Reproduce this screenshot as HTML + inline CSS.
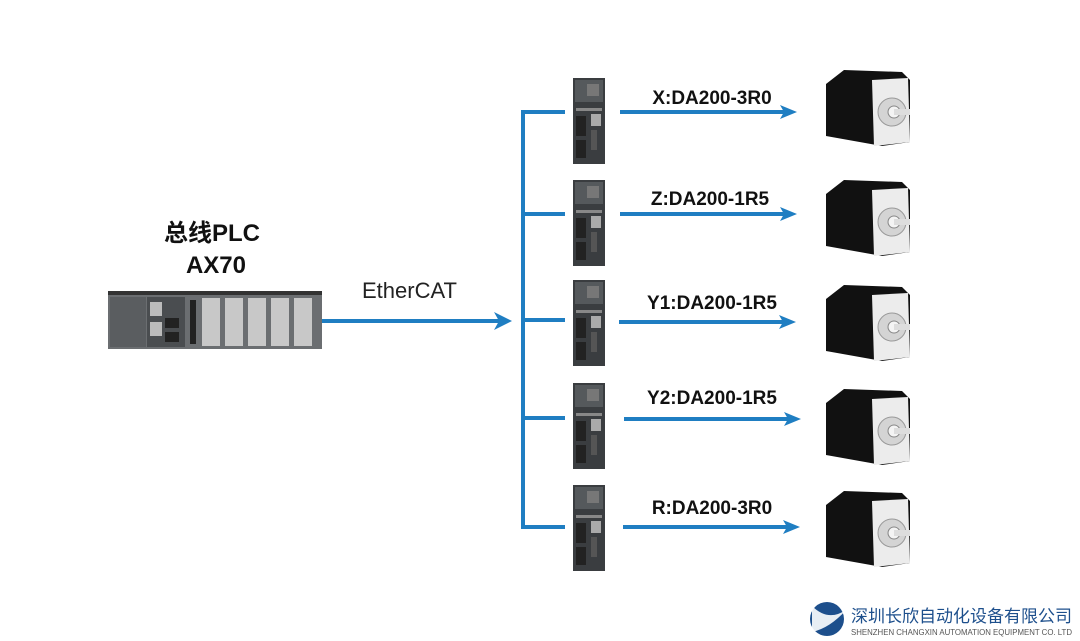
<!DOCTYPE html>
<html><head><meta charset="utf-8"><style>
html,body{margin:0;padding:0;background:#fff;width:1080px;height:641px;overflow:hidden}
svg{display:block}
text{font-family:"Liberation Sans","Noto Sans CJK SC",sans-serif}
</style></head><body>
<svg width="1080" height="641" viewBox="0 0 1080 641" xmlns="http://www.w3.org/2000/svg">
<defs>
<g id="drive">
<rect x="0" y="0" width="32" height="86" fill="#3a3d40"/>
<rect x="2" y="2" width="28" height="22" fill="#55595c"/>
<rect x="14" y="6" width="12" height="12" fill="#777"/>
<rect x="3" y="30" width="26" height="3" fill="#888"/>
<rect x="18" y="36" width="10" height="12" fill="#aaa"/>
<rect x="3" y="38" width="10" height="20" fill="#222"/>
<rect x="3" y="62" width="10" height="18" fill="#222"/>
<rect x="18" y="52" width="6" height="20" fill="#555"/>
</g>
<g id="motor">
<polygon points="4,18 22,4 80,6 88,14 88,76 60,80 4,70" fill="#111"/>
<polygon points="50,14 86,12 88,76 52,80" fill="#ececec"/>
<circle cx="70" cy="46" r="14" fill="#d4d4d4" stroke="#999"/>
<circle cx="72" cy="46" r="6" fill="#f4f4f4" stroke="#888"/>
<rect x="72" y="43" width="16" height="6" fill="#ddd"/>
</g>
<g id="arr"><line x1="0" y1="0" x2="170" y2="0" stroke="#1f7ec2" stroke-width="4"/><polygon points="160,-7 177,0 160,7 164,0" fill="#1f7ec2"/></g>
</defs>

<text x="212" y="241" font-size="24" font-weight="bold" text-anchor="middle" fill="#111">总线PLC</text>
<text x="216" y="273" font-size="24" font-weight="bold" text-anchor="middle" fill="#111">AX70</text>

<rect x="108" y="291" width="214" height="58" fill="#6b6e71"/>
<rect x="110" y="297" width="36" height="50" fill="#5a5d60"/>
<rect x="147" y="297" width="38" height="50" fill="#4a4d50"/>
<rect x="150" y="302" width="12" height="14" fill="#bbb"/><rect x="150" y="322" width="12" height="14" fill="#bbb"/>
<rect x="165" y="318" width="14" height="10" fill="#222"/><rect x="165" y="332" width="14" height="10" fill="#222"/>
<rect x="190" y="300" width="6" height="44" fill="#222"/>
<g fill="#c8c8c8">
<rect x="202" y="298" width="18" height="48"/><rect x="225" y="298" width="18" height="48"/><rect x="248" y="298" width="18" height="48"/><rect x="271" y="298" width="18" height="48"/><rect x="294" y="298" width="18" height="48"/>
</g>
<rect x="108" y="291" width="214" height="4" fill="#333"/>

<text x="362" y="298" font-size="22" fill="#222">EtherCAT</text>
<line x1="322" y1="321" x2="500" y2="321" stroke="#1f7ec2" stroke-width="4"/>
<polygon points="494,312 512,321 494,330 499,321" fill="#1f7ec2"/>

<line x1="523" y1="110" x2="523" y2="529" stroke="#1f7ec2" stroke-width="4"/>
<g stroke="#1f7ec2" stroke-width="4">
<line x1="521" y1="112" x2="565" y2="112"/>
<line x1="521" y1="214" x2="565" y2="214"/>
<line x1="521" y1="320" x2="565" y2="320"/>
<line x1="521" y1="418" x2="565" y2="418"/>
<line x1="521" y1="527" x2="565" y2="527"/>
</g>

<use href="#drive" x="573" y="78"/>
<use href="#drive" x="573" y="180"/>
<use href="#drive" x="573" y="280"/>
<use href="#drive" x="573" y="383"/>
<use href="#drive" x="573" y="485"/>

<use href="#arr" x="620" y="112"/>
<use href="#arr" x="620" y="214"/>
<use href="#arr" x="619" y="322"/>
<use href="#arr" x="624" y="419"/>
<use href="#arr" x="623" y="527"/>

<g font-size="19" font-weight="bold" fill="#111" text-anchor="middle">
<text x="712" y="104">X:DA200-3R0</text>
<text x="710" y="205">Z:DA200-1R5</text>
<text x="712" y="309">Y1:DA200-1R5</text>
<text x="712" y="404">Y2:DA200-1R5</text>
<text x="712" y="514">R:DA200-3R0</text>
</g>

<use href="#motor" x="822" y="66"/>
<use href="#motor" x="822" y="176"/>
<use href="#motor" x="822" y="281"/>
<use href="#motor" x="822" y="385"/>
<use href="#motor" x="822" y="487"/>

<circle cx="827" cy="619" r="17" fill="#1d4f8c"/>
<path d="M812 606 Q828 622 846 610 Q830 628 812 632 Z" fill="#fff" opacity="0.9"/>
<text x="851" y="622" font-size="17" fill="#1d4f8c" font-family="Noto Sans CJK SC, sans-serif" textLength="221" lengthAdjust="spacingAndGlyphs">深圳长欣自动化设备有限公司</text>
<text x="851" y="635" font-size="8" fill="#555" textLength="221" lengthAdjust="spacingAndGlyphs">SHENZHEN CHANGXIN AUTOMATION EQUIPMENT CO. LTD</text>
</svg>
</body></html>
